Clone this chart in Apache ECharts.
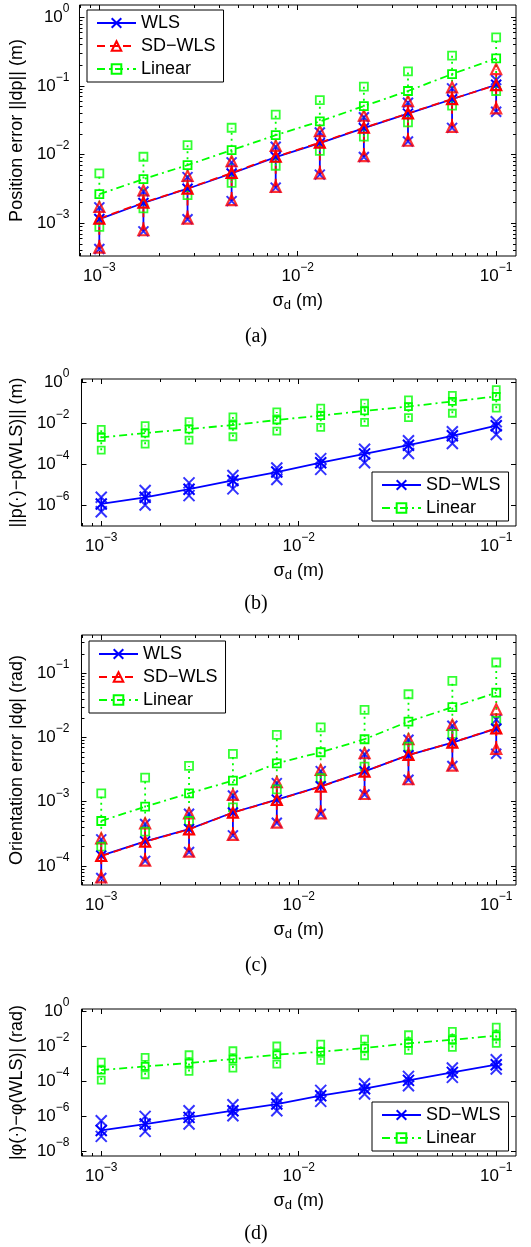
<!DOCTYPE html>
<html>
<head>
<meta charset="utf-8">
<script src="https://cdn.jsdelivr.net/npm/echarts@6/dist/echarts.min.js"></script>
<style>
  html, body { margin: 0; padding: 0; background: #fff; }
  #chart { width: 531px; height: 1247px; }
</style>
</head>
<body>
<div id="chart"></div>
<script>
// sigma_d values (m)
const sigmaD = [0.001, 0.001668, 0.002783, 0.004642, 0.007743, 0.01292, 0.02154, 0.03594, 0.05995, 0.1];

// tick labels
const xMajor = [0.001, 0.01, 0.1];
const yMajorA = [0.001, 0.01, 0.1, 1];
const yMajorB = [1e-6, 1e-4, 1e-2, 1];
const yMajorC = [1e-4, 1e-3, 1e-2, 1e-1];
const yMajorD = [1e-8, 1e-6, 1e-4, 1e-2, 1];

// (a) position error ||dp||
const posWlsMean = [0.00115, 0.00197, 0.00318, 0.0053, 0.0092, 0.0147, 0.0243, 0.0395, 0.064, 0.104];
const posWlsHi   = [0.0017, 0.0029, 0.0047, 0.0077, 0.013, 0.021, 0.035, 0.057, 0.092, 0.122];
const posWlsLo   = [0.00042, 0.00076, 0.00114, 0.0021, 0.0033, 0.0051, 0.0092, 0.0155, 0.0245, 0.042];
const posSdMean  = [0.00117, 0.002, 0.0032, 0.0054, 0.0093, 0.0149, 0.0246, 0.0398, 0.0644, 0.103];
const posSdHi    = [0.00173, 0.003, 0.0049, 0.008, 0.0134, 0.022, 0.0368, 0.0602, 0.0953, 0.176];
const posSdLo    = [0.00044, 0.00079, 0.00117, 0.00217, 0.00339, 0.0053, 0.0095, 0.0159, 0.0254, 0.0471];
const posLinMean = [0.00265, 0.00439, 0.00702, 0.0116, 0.0192, 0.0304, 0.0509, 0.0843, 0.149, 0.252];
const posLinHi   = [0.00531, 0.0093, 0.0137, 0.0246, 0.0381, 0.0623, 0.0974, 0.163, 0.276, 0.511];
const posLinLo   = [0.000885, 0.00164, 0.00256, 0.00388, 0.00687, 0.01135, 0.0182, 0.0294, 0.0515, 0.0843];

// (b) ||p(.) - p(WLS)||
const dpSdMean  = [1.21e-6, 2.57e-6, 6.35e-6, 1.7e-5, 4.36e-5, 1.25e-4, 3.35e-4, 8.93e-4, 2.57e-3, 7.97e-3];
const dpSdHi    = [2.57e-6, 5.47e-6, 1.3e-5, 2.98e-5, 6.85e-5, 1.97e-4, 5.68e-4, 1.46e-3, 4.04e-3, 1.25e-2];
const dpSdLo    = [5.07e-7, 1.08e-6, 3.1e-6, 6.6e-6, 1.9e-5, 5.9e-5, 1.25e-4, 3.48e-4, 1.08e-3, 2.99e-3];
const dpLinMean = [2.13e-3, 3.48e-3, 5.47e-3, 8.6e-3, 0.0151, 0.0247, 0.042, 0.0686, 0.121, 0.213];
const dpLinHi   = [5.26e-3, 7.97e-3, 0.0125, 0.0213, 0.0375, 0.0568, 0.1, 0.146, 0.238, 0.453];
const dpLinLo   = [5.07e-4, 1.0e-3, 1.57e-3, 2.3e-3, 4.36e-3, 6.6e-3, 0.0116, 0.0197, 0.0322, 0.0568];

// (c) orientation error |dphi|
const oriWlsMean = [1.45e-4, 2.42e-4, 3.75e-4, 6.8e-4, 1.08e-3, 1.74e-3, 2.97e-3, 5.3e-3, 8.3e-3, 0.0137];
const oriWlsHi   = [2.6e-4, 4.5e-4, 6.5e-4, 1.25e-3, 1.95e-3, 3.0e-3, 5.5e-3, 9.2e-3, 0.0152, 0.019];
const oriWlsLo   = [6.5e-5, 1.2e-4, 1.65e-4, 3.0e-4, 4.7e-4, 6.5e-4, 1.3e-3, 2.2e-3, 3.6e-3, 5.6e-3];
const oriSdMean  = [1.43e-4, 2.39e-4, 3.72e-4, 6.77e-4, 1.07e-3, 1.72e-3, 2.95e-3, 5.35e-3, 8.33e-3, 0.0139];
const oriSdHi    = [2.7e-4, 4.62e-4, 6.61e-4, 1.28e-3, 2.01e-3, 3.13e-3, 5.69e-3, 9.4e-3, 0.0157, 0.0275];
const oriSdLo    = [6.67e-5, 1.21e-4, 1.67e-4, 3.04e-4, 4.73e-4, 6.61e-4, 1.32e-3, 2.24e-3, 3.66e-3, 6.64e-3];
const oriLinMean = [5.02e-4, 8.39e-4, 1.35e-3, 2.13e-3, 3.97e-3, 5.89e-3, 9.4e-3, 0.0177, 0.0296, 0.05];
const oriLinHi   = [1.35e-3, 2.38e-3, 3.61e-3, 5.55e-3, 0.011, 0.0144, 0.0269, 0.0471, 0.076, 0.147];
const oriLinLo   = [2.0e-4, 3.43e-4, 5.02e-4, 8.2e-4, 1.56e-3, 2.32e-3, 3.52e-3, 7.21e-3, 0.0114, 0.0181];

// (d) |phi(.) - phi(WLS)|
const dphSdMean  = [1.58e-7, 3.65e-7, 8.77e-7, 2.11e-6, 5.07e-6, 1.52e-5, 3.81e-5, 1.14e-4, 3.27e-4, 8.96e-4];
const dphSdHi    = [5.65e-7, 1.0e-6, 2.11e-6, 4.64e-6, 1.12e-5, 3.06e-5, 7.36e-5, 1.93e-4, 5.78e-4, 1.73e-3];
const dphSdLo    = [7.2e-8, 1.39e-7, 3.65e-7, 1.09e-6, 2.11e-6, 7.2e-6, 1.89e-5, 5.65e-5, 1.69e-4, 5.07e-4];
const dphLinMean = [4.44e-4, 7.2e-4, 1.12e-3, 1.89e-3, 3.34e-3, 4.96e-3, 8.03e-3, 0.0148, 0.024, 0.0407];
const dphLinHi   = [1.27e-3, 2.35e-3, 3.34e-3, 5.65e-3, 0.0105, 0.0136, 0.0262, 0.0464, 0.072, 0.127];
const dphLinLo   = [1.19e-4, 2.4e-4, 3.73e-4, 5.78e-4, 9.8e-4, 1.58e-3, 2.93e-3, 5.91e-3, 8.77e-3, 0.0148];

const FONT = '"Liberation Sans", Arial, Helvetica, sans-serif';
const ZW = '\u200b'; // keeps legend names unique per panel
const X_MIN = 7.943e-4, X_MAX = 0.1259;

const BLUE = '#0000ff', RED = '#ff0000', GREEN = '#00ff00';
const X_SYM = 'path://M0,0L10,10M10,0L0,10';
const styles = {
  wls: { color: BLUE, dash: 'solid', barDash: null, symbol: X_SYM, size: 10, bw: 2 },
  sd: { color: RED, dash: [8, 5], barDash: [8, 5], symbol: 'triangle', size: 10, bw: 2.2 },
  sdBlue: { color: BLUE, dash: 'solid', barDash: null, symbol: X_SYM, size: 11, bw: 2 },
  lin: { color: GREEN, dash: [8, 4, 2, 4], barDash: [2, 4], symbol: 'rect', size: 8, bw: 1.8 },
  linSmall: { color: GREEN, dash: [8, 4, 2, 4], barDash: [2, 4], symbol: 'rect', size: 7, bw: 1.8 }
};

const panels = [
  { top: 5, height: 251, left: 78, yMin: 3.33e-4, yMax: 1.51, yMajor: yMajorA, minor: true,
    yName: 'Position error ||dp|| (m)', margin: 10, legendPos: [87, 10], caption: '(a)', capY: 337,
    sets: [['WLS', posWlsMean, posWlsLo, posWlsHi, 'wls'],
           ['SD\u2212WLS', posSdMean, posSdLo, posSdHi, 'sd'],
           ['Linear', posLinMean, posLinLo, posLinHi, 'lin']] },
  { top: 379, height: 147, left: 80, yMin: 1.02e-7, yMax: 1.51, yMajor: yMajorB, minor: false,
    yName: '||p(\u00b7)\u2212p(WLS)|| (m)', margin: 12, legendPos: [372, 472], caption: '(b)', capY: 604,
    sets: [['SD\u2212WLS' + ZW, dpSdMean, dpSdLo, dpSdHi, 'sdBlue'],
           ['Linear' + ZW, dpLinMean, dpLinLo, dpLinHi, 'linSmall']] },
  { top: 635, height: 250, left: 80, yMin: 5.06e-5, yMax: 0.394, yMajor: yMajorC, minor: true,
    yName: 'Orientation error |d\u03c6| (rad)', margin: 12, legendPos: [89, 641], caption: '(c)', capY: 966,
    sets: [['WLS' + ZW + ZW, oriWlsMean, oriWlsLo, oriWlsHi, 'wls'],
           ['SD\u2212WLS' + ZW + ZW, oriSdMean, oriSdLo, oriSdHi, 'sd'],
           ['Linear' + ZW + ZW, oriLinMean, oriLinLo, oriLinHi, 'lin']] },
  { top: 1009, height: 147, left: 80, yMin: 5.46e-9, yMax: 1.37, yMajor: yMajorD, minor: false,
    yName: '|\u03c6(\u00b7)\u2212\u03c6(WLS)| (rad)', margin: 12, legendPos: [372, 1102], caption: '(d)', capY: 1234,
    sets: [['SD\u2212WLS' + ZW + ZW + ZW, dphSdMean, dphSdLo, dphSdHi, 'sdBlue'],
           ['Linear' + ZW + ZW + ZW, dphLinMean, dphLinLo, dphLinHi, 'linSmall']] }
];

function minorTicks(lo, hi) {
  const out = [];
  for (let e = Math.floor(Math.log10(lo)); e <= Math.ceil(Math.log10(hi)); e++) {
    for (let m = 2; m <= 9; m++) {
      const v = m * Math.pow(10, e);
      if (v > lo && v < hi) out.push(v);
    }
  }
  return out;
}

const expLabel = (v) => {
  const e = Math.round(Math.log10(v));
  return '{b|10}{s|' + (e < 0 ? '\u2212' + (-e) : e) + '}';
};
const labelRich = {
  b: { fontFamily: FONT, fontSize: 17, lineHeight: 29, color: '#000' },
  s: { fontFamily: FONT, fontSize: 12, lineHeight: 10, verticalAlign: 'top', color: '#000' }
};

const grids = [], xAxes = [], yAxes = [], series = [], legends = [], graphics = [];

panels.forEach((p, gi) => {
  grids.push({ left: p.left, right: 15, top: p.top, height: p.height, show: true,
    borderColor: '#000', borderWidth: 1, backgroundColor: 'transparent' });

  const tick = (vals, len, show) => ({ show: show, inside: true, length: len, customValues: vals,
    lineStyle: { color: '#000', width: 1 } });

  const xb = { type: 'log', logBase: 10, gridIndex: gi, min: X_MIN, max: X_MAX,
    axisLine: { show: false }, splitLine: { show: false }, axisLabel: { show: false } };
  const xMinor = minorTicks(X_MIN, X_MAX);
  xAxes.push(Object.assign({}, xb, {
    position: 'bottom', axisTick: tick(xMajor, 5, true),
    axisLabel: { show: true, customValues: xMajor, margin: 6, formatter: expLabel, rich: labelRich },
    name: '{i|\u03c3}{d|d}{i| (m)}', nameLocation: 'middle', nameGap: 34,
    nameTextStyle: { rich: {
      i: { fontFamily: FONT, fontSize: 18, lineHeight: 22, color: '#000' },
      d: { fontFamily: FONT, fontSize: 13, lineHeight: 10, verticalAlign: 'bottom', color: '#000' } } }
  }));
  xAxes.push(Object.assign({}, xb, { position: 'bottom', axisTick: tick(xMinor, 3, true) }));
  xAxes.push(Object.assign({}, xb, { position: 'top', axisTick: tick(xMajor, 5, true) }));
  xAxes.push(Object.assign({}, xb, { position: 'top', axisTick: tick(xMinor, 3, true) }));

  const yb = { type: 'log', logBase: 10, gridIndex: gi, min: p.yMin, max: p.yMax,
    axisLine: { show: false }, splitLine: { show: false }, axisLabel: { show: false } };
  const yMinor = p.minor ? minorTicks(p.yMin, p.yMax) : [];
  yAxes.push(Object.assign({}, yb, {
    position: 'left', axisTick: tick(p.yMajor, 5, true),
    axisLabel: { show: true, customValues: p.yMajor, margin: p.margin, formatter: expLabel, rich: labelRich },
    name: p.yName, nameLocation: 'middle', nameGap: 38,
    nameTextStyle: { fontFamily: FONT, fontSize: 18, color: '#000' }
  }));
  yAxes.push(Object.assign({}, yb, { position: 'left', axisTick: tick(yMinor, 3, p.minor) }));
  yAxes.push(Object.assign({}, yb, { position: 'right', axisTick: tick(p.yMajor, 5, true) }));
  yAxes.push(Object.assign({}, yb, { position: 'right', axisTick: tick(yMinor, 3, p.minor) }));

  const ax = { xAxisIndex: gi * 4, yAxisIndex: gi * 4 };
  const names = [];
  p.sets.forEach(([name, mean, lo, hi, key]) => {
    const st = styles[key];
    names.push(name);
    const symStyle = { color: 'transparent', borderColor: st.color, borderWidth: st.bw };
    // error bars (min to max)
    series.push(Object.assign({
      type: 'custom', name: name + '#bar', coordinateSystem: 'cartesian2d',
      encode: { x: 0, y: [1, 2] },
      data: sigmaD.map((x, i) => [x, lo[i], hi[i]]),
      renderItem: (params, api) => {
        const a = api.coord([api.value(0), api.value(1)]);
        const b = api.coord([api.value(0), api.value(2)]);
        return { type: 'line', shape: { x1: a[0], y1: a[1], x2: b[0], y2: b[1] },
          style: { stroke: st.color, lineWidth: 1.8, lineDash: st.barDash, fill: null } };
      }
    }, ax));
    // min / max markers
    series.push(Object.assign({
      type: 'scatter', name: name + '#ends', symbol: st.symbol, symbolSize: st.size,
      itemStyle: symStyle,
      data: sigmaD.map((x, i) => [x, lo[i]]).concat(sigmaD.map((x, i) => [x, hi[i]]))
    }, ax));
    // mean line
    series.push(Object.assign({
      type: 'line', name: name, symbol: st.symbol, symbolSize: st.size, showAllSymbol: true,
      lineStyle: { color: st.color, width: 1.8, type: st.dash },
      itemStyle: symStyle,
      data: sigmaD.map((x, i) => [x, mean[i]])
    }, ax));
  });

  legends.push({
    orient: 'vertical', left: p.legendPos[0], top: p.legendPos[1], data: names,
    itemWidth: 39, itemHeight: 12, itemGap: 5, padding: [4, 8, 4, 9],
    borderColor: '#000', borderWidth: 1, borderRadius: 0, backgroundColor: '#fff',
    selectedMode: false, formatter: (n) => n.replace(/\u200b/g, ''),
    textStyle: { fontFamily: FONT, fontSize: 18, color: '#000' }
  });

  graphics.push({ type: 'text', x: 256, y: p.capY,
    style: { text: p.caption, fontFamily: '"Liberation Serif", "Times New Roman", serif', fontSize: 20,
      fill: '#000', align: 'center', verticalAlign: 'middle', textAlign: 'center', textVerticalAlign: 'middle' } });
});

const chart = echarts.init(document.getElementById('chart'));
chart.setOption({
  animation: false,
  backgroundColor: '#fff',
  grid: grids,
  xAxis: xAxes,
  yAxis: yAxes,
  legend: legends,
  graphic: graphics,
  series: series
});
</script>
</body>
</html>
